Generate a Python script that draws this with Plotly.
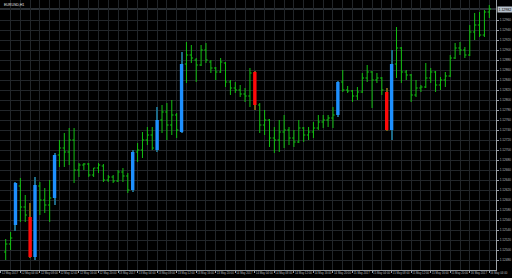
import plotly.graph_objects as go

title = "EURUSD,H1"

open_ = [1.12496, 1.12512, 1.12550, 1.12628, 1.12586, 1.12566, 1.12486, 1.12628, 1.12600, 1.12590,
         1.12604, 1.12690, 1.12704, 1.12696, 1.12720, 1.12660, 1.12670, 1.12672, 1.12650, 1.12664,
         1.12668, 1.12640, 1.12646, 1.12638, 1.12656, 1.12648, 1.12620, 1.12696, 1.12700, 1.12720,
         1.12730, 1.12700, 1.12760, 1.12776, 1.12750, 1.12770, 1.12736, 1.12872, 1.12890, 1.12880,
         1.12870, 1.12900, 1.12876, 1.12864, 1.12856, 1.12874, 1.12836, 1.12824, 1.12820, 1.12812,
         1.12808, 1.12856, 1.12790, 1.12750, 1.12760, 1.12724, 1.12720, 1.12736, 1.12740, 1.12724,
         1.12716, 1.12744, 1.12730, 1.12736, 1.12744, 1.12756, 1.12760, 1.12764, 1.12770, 1.12836,
         1.12820, 1.12818, 1.12808, 1.12816, 1.12844, 1.12856, 1.12840, 1.12844, 1.12816, 1.12740,
         1.12872, 1.12904, 1.12856, 1.12850, 1.12810, 1.12824, 1.12826, 1.12844, 1.12856, 1.12830,
         1.12840, 1.12848, 1.12884, 1.12904, 1.12900, 1.12890, 1.12936, 1.12950, 1.12930, 1.12976]

high_ = [1.12522, 1.12536, 1.12636, 1.12644, 1.12610, 1.12594, 1.12646, 1.12636, 1.12624, 1.12640,
         1.12694, 1.12720, 1.12734, 1.12744, 1.12744, 1.12674, 1.12674, 1.12674, 1.12664, 1.12674,
         1.12672, 1.12650, 1.12650, 1.12660, 1.12664, 1.12654, 1.12700, 1.12714, 1.12736, 1.12746,
         1.12746, 1.12786, 1.12790, 1.12794, 1.12800, 1.12774, 1.12896, 1.12916, 1.12910, 1.12884,
         1.12910, 1.12914, 1.12880, 1.12866, 1.12884, 1.12876, 1.12840, 1.12836, 1.12830, 1.12824,
         1.12864, 1.12858, 1.12794, 1.12780, 1.12762, 1.12746, 1.12760, 1.12770, 1.12746, 1.12740,
         1.12760, 1.12746, 1.12746, 1.12756, 1.12770, 1.12770, 1.12770, 1.12786, 1.12838, 1.12860,
         1.12828, 1.12820, 1.12826, 1.12854, 1.12870, 1.12858, 1.12854, 1.12846, 1.12824, 1.12900,
         1.12946, 1.12906, 1.12860, 1.12852, 1.12840, 1.12830, 1.12874, 1.12864, 1.12858, 1.12846,
         1.12856, 1.12890, 1.12914, 1.12916, 1.12906, 1.12950, 1.12974, 1.12976, 1.12980, 1.12990]

low_ = [1.12480, 1.12500, 1.12538, 1.12556, 1.12556, 1.12484, 1.12480, 1.12570, 1.12574, 1.12556,
        1.12590, 1.12666, 1.12666, 1.12670, 1.12634, 1.12646, 1.12660, 1.12646, 1.12646, 1.12654,
        1.12636, 1.12636, 1.12634, 1.12636, 1.12636, 1.12614, 1.12616, 1.12676, 1.12684, 1.12710,
        1.12700, 1.12696, 1.12734, 1.12720, 1.12730, 1.12724, 1.12734, 1.12834, 1.12874, 1.12836,
        1.12868, 1.12874, 1.12854, 1.12840, 1.12854, 1.12826, 1.12810, 1.12814, 1.12806, 1.12796,
        1.12786, 1.12780, 1.12734, 1.12730, 1.12706, 1.12694, 1.12696, 1.12704, 1.12710, 1.12706,
        1.12714, 1.12716, 1.12720, 1.12724, 1.12740, 1.12744, 1.12746, 1.12744, 1.12766, 1.12816,
        1.12814, 1.12796, 1.12800, 1.12814, 1.12836, 1.12784, 1.12834, 1.12810, 1.12738, 1.12720,
        1.12844, 1.12834, 1.12840, 1.12796, 1.12806, 1.12816, 1.12824, 1.12834, 1.12816, 1.12820,
        1.12826, 1.12846, 1.12882, 1.12890, 1.12884, 1.12888, 1.12920, 1.12926, 1.12926, 1.12964]

close_ = [1.12512, 1.12524, 1.12634, 1.12586, 1.12570, 1.12486, 1.12630, 1.12600, 1.12590, 1.12604,
          1.12690, 1.12704, 1.12696, 1.12720, 1.12660, 1.12670, 1.12672, 1.12650, 1.12664, 1.12670,
          1.12640, 1.12646, 1.12638, 1.12656, 1.12648, 1.12620, 1.12696, 1.12700, 1.12720, 1.12730,
          1.12704, 1.12760, 1.12776, 1.12750, 1.12770, 1.12740, 1.12872, 1.12890, 1.12884, 1.12870,
          1.12900, 1.12880, 1.12864, 1.12856, 1.12876, 1.12836, 1.12824, 1.12820, 1.12812, 1.12808,
          1.12854, 1.12790, 1.12750, 1.12760, 1.12724, 1.12720, 1.12736, 1.12740, 1.12724, 1.12716,
          1.12744, 1.12730, 1.12736, 1.12744, 1.12756, 1.12760, 1.12764, 1.12770, 1.12836, 1.12820,
          1.12818, 1.12808, 1.12816, 1.12844, 1.12856, 1.12840, 1.12844, 1.12820, 1.12740, 1.12872,
          1.12904, 1.12856, 1.12850, 1.12810, 1.12824, 1.12826, 1.12844, 1.12856, 1.12830, 1.12840,
          1.12848, 1.12884, 1.12904, 1.12900, 1.12890, 1.12936, 1.12950, 1.12930, 1.12976, 1.12982]

# bars drawn as coloured candles (big-bar highlight)
highlight = [2, 5, 6, 10, 26, 31, 36, 51, 68, 78, 79]

time_labels = ["12 May 2017", "12 May 04:00", "12 May 08:00", "12 May 12:00", "12 May 16:00", "12 May 20:00",
               "13 May 2017", "13 May 04:00", "13 May 08:00", "13 May 12:00", "13 May 16:00", "13 May 20:00",
               "14 May 2017", "14 May 04:00", "14 May 08:00", "14 May 12:00", "14 May 16:00", "14 May 20:00",
               "15 May 2017", "15 May 04:00", "15 May 08:00", "15 May 12:00", "15 May 16:00", "15 May 20:00",
               "16 May 2017", "16 May 04:00"]
time_label_bars = [-1, 3, 7, 11, 15, 19, 23, 27, 31, 35, 39, 43, 47, 51, 55, 59, 63, 67, 71, 75, 79, 83, 87, 91, 95, 99]

price_ticks = [1.12480, 1.12500, 1.12520, 1.12540, 1.12560, 1.12580, 1.12600, 1.12620, 1.12640,
               1.12660, 1.12680, 1.12700, 1.12720, 1.12740, 1.12760, 1.12780, 1.12800, 1.12820,
               1.12840, 1.12860, 1.12880, 1.12900, 1.12920, 1.12940, 1.12960]

GREEN = "#12c012"
BLUE = "#1e90ff"
RED = "#ff0a0a"
WICK_UP = "#1d6a86"
WICK_DN = "#7a5c14"
GRID = "#22262a"
AXIS = "#9aa0a6"
TXT = "#b4b8bc"
FONT = "Liberation Sans"

n = len(open_)
norm = [i for i in range(n) if i not in highlight]
up_hl = [close_[i] > open_[i] for i in highlight]

fig = go.Figure()

fig.add_trace(go.Ohlc(
    x=norm,
    open=[open_[i] for i in norm], high=[high_[i] for i in norm],
    low=[low_[i] for i in norm], close=[close_[i] for i in norm],
    increasing=dict(line=dict(color=GREEN, width=1)),
    decreasing=dict(line=dict(color=GREEN, width=1)),
    tickwidth=0.35, hoverinfo="skip", showlegend=False,
))

# wicks of highlighted candles
fig.add_trace(go.Bar(
    x=highlight,
    base=[low_[i] for i in highlight],
    y=[high_[i] - low_[i] for i in highlight],
    width=0.2,
    marker=dict(color=[WICK_UP if u else WICK_DN for u in up_hl], line=dict(width=0)),
    hoverinfo="skip", showlegend=False,
))

# bodies of highlighted candles
fig.add_trace(go.Bar(
    x=highlight,
    base=[min(open_[i], close_[i]) for i in highlight],
    y=[abs(close_[i] - open_[i]) for i in highlight],
    width=0.7,
    marker=dict(color=[BLUE if u else RED for u in up_hl], line=dict(width=0)),
    hoverinfo="skip", showlegend=False,
))

last = close_[-1]
fig.add_shape(type="line", xref="paper", x0=0, x1=1, yref="y", y0=last, y1=last,
              line=dict(color="#56606a", width=1), layer="below")

fig.add_annotation(xref="paper", x=1, xanchor="left", xshift=1, yref="y", y=last,
                   text="%.5f" % last, showarrow=False, bgcolor="#b8c2cc",
                   font=dict(size=3.5, color="#000000", family=FONT), borderpad=0.5)

fig.add_annotation(xref="paper", x=0, xanchor="left", xshift=2, yref="paper", y=1, yanchor="top",
                   yshift=-1, text=title, showarrow=False,
                   font=dict(size=3.5, color="#e6e6e6", family=FONT))

fig.update_layout(
    width=512, height=278,
    margin=dict(l=0, r=16, t=0, b=8),
    paper_bgcolor="#000000", plot_bgcolor="#000000",
    showlegend=False, hovermode=False, barmode="overlay",
    xaxis=dict(
        range=[-1.167, 100.37], rangeslider=dict(visible=False),
        tickmode="array", tickvals=time_label_bars, ticktext=time_labels,
        ticklabelposition="outside right", tickangle=0,
        ticks="outside", ticklen=2, tickcolor=AXIS,
        tickfont=dict(size=2.8, color=TXT, family=FONT),
        showgrid=True, gridcolor=GRID, gridwidth=1,
        minor=dict(tickmode="array", tickvals=list(range(-1, 101, 2)), showgrid=True,
                   gridcolor=GRID, gridwidth=1, ticks=""),
        showline=True, linecolor=AXIS, linewidth=1, zeroline=False, fixedrange=True,
    ),
    yaxis=dict(
        side="right", range=[1.12460, 1.13000],
        tickmode="array", tickvals=price_ticks, ticktext=["%.5f" % v for v in price_ticks],
        ticks="outside", ticklen=2, tickcolor=AXIS,
        tickfont=dict(size=3.2, color=TXT, family=FONT),
        showgrid=True, gridcolor=GRID, gridwidth=1,
        showline=True, linecolor=AXIS, linewidth=1, zeroline=False, fixedrange=True,
    ),
)

fig.write_html("out.html")
